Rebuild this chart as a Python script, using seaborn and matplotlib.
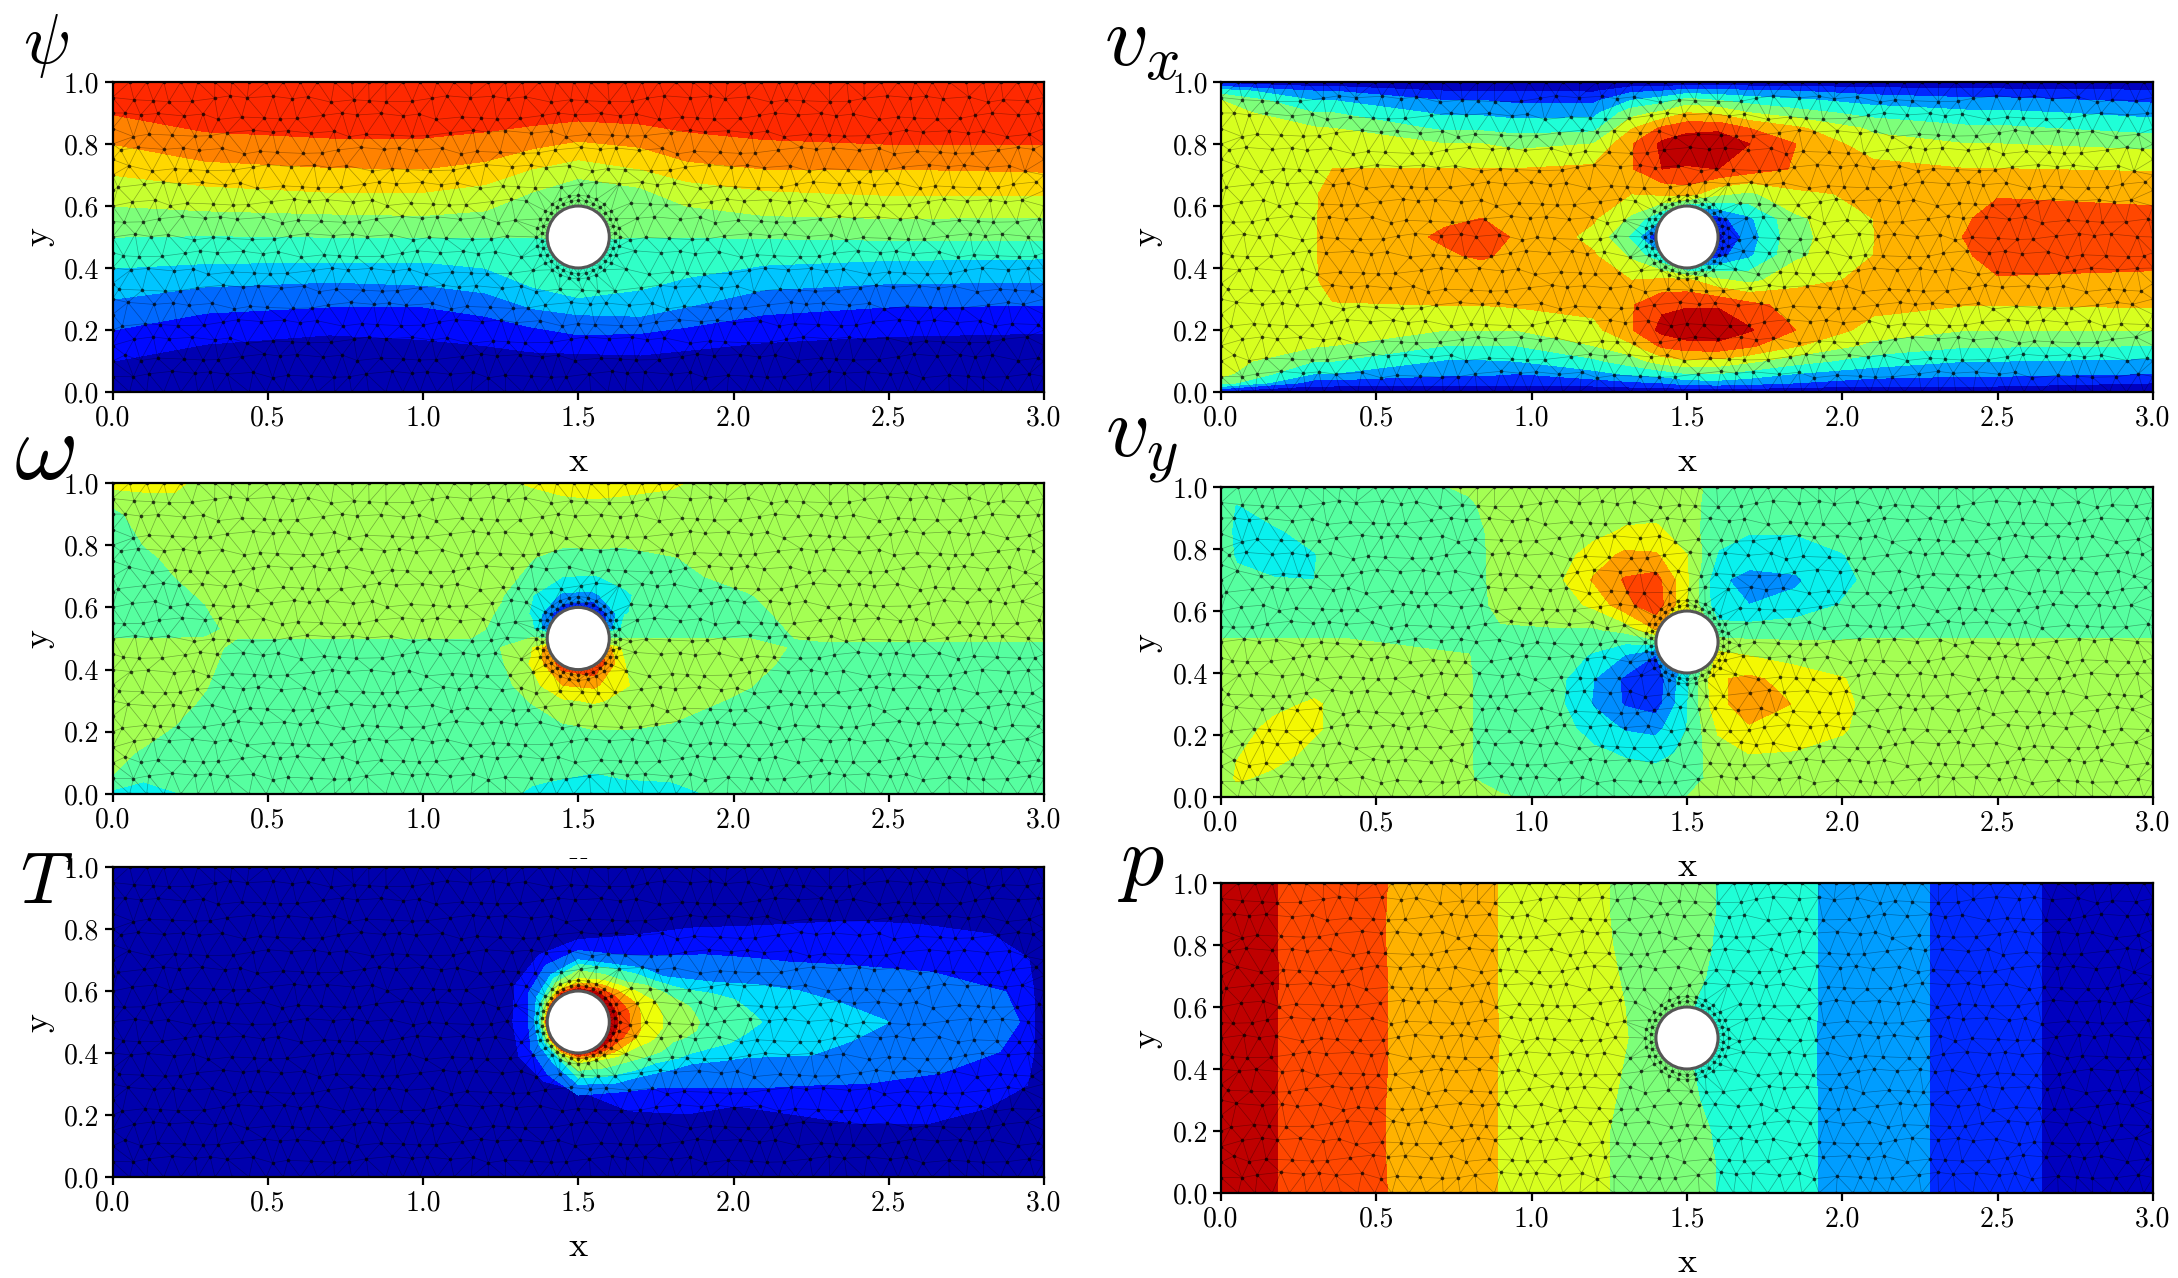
import numpy as np
import matplotlib
matplotlib.use("Agg")
import matplotlib.pyplot as plt
import matplotlib.tri as mtri
from matplotlib.patches import Circle, Rectangle
import seaborn as sns

W, H = 2178, 1278

tick_values_x = [0.0, 0.5, 1.0, 1.5, 2.0, 2.5, 3.0]
tick_values_y = [0.0, 0.2, 0.4, 0.6, 0.8, 1.0]

# ---- psi: height of each iso-line at x stations ----
psi_x = [0, .3, .7, 1, 1.2, 1.35, 1.5, 1.7, 1.85, 2.1, 2.5, 3]
psi_iso1 = [.10, .155, .185, .17, .15, .13, .125, .12, .135, .16, .18, .19]
psi_iso2 = [.20, .255, .275, .275, .245, .21, .185, .19, .21, .25, .275, .28]
psi_iso3 = [.30, .34, .355, .345, .32, .27, .25, .245, .275, .33, .35, .355]
psi_iso4 = [.40, .415, .42, .42, .40, .34, .305, .33, .37, .41, .425, .43]
psi_iso5 = [.50, .505, .50, .50, .50, .50, .49, .50, .50, .495, .49, .49]
psi_iso6 = [.60, .585, .575, .57, .585, .645, .69, .66, .60, .57, .56, .565]
psi_iso7 = [.70, .665, .645, .645, .67, .72, .75, .72, .68, .65, .635, .635]
psi_iso8 = [.80, .745, .725, .72, .745, .785, .81, .79, .745, .72, .72, .71]
psi_iso9 = [.895, .84, .82, .82, .84, .86, .875, .865, .84, .815, .80, .80]

# ---- p: x position of each iso-line at y stations ----
p_y = [0, .1, .2, .3, .4, .5, .6, .7, .8, .9, 1]
p_iso8 = [.18, .18, .18, .18, .18, .18, .18, .185, .18, .18, .18]
p_iso7 = [.535, .53, .53, .53, .535, .535, .535, .535, .53, .53, .535]
p_iso6 = [.89, .89, .89, .89, .89, .895, .89, .89, .89, .89, .89]
p_iso5 = [1.25, 1.25, 1.25, 1.27, 1.29, 1.31, 1.30, 1.28, 1.26, 1.25, 1.25]
p_iso4 = [1.59, 1.59, 1.575, 1.54, 1.52, 1.50, 1.52, 1.56, 1.58, 1.59, 1.59]
p_iso3 = [1.92, 1.92, 1.92, 1.92, 1.915, 1.915, 1.92, 1.92, 1.92, 1.92, 1.92]
p_iso2 = [2.28, 2.28, 2.28, 2.28, 2.28, 2.28, 2.28, 2.28, 2.28, 2.28, 2.28]
p_iso1 = [2.64, 2.64, 2.64, 2.64, 2.64, 2.64, 2.64, 2.64, 2.64, 2.64, 2.64]

# ---- T: radius of each isotherm around the cylinder at angle stations ----
T_angle = [0, 4, 8, 12, 16, 20, 28, 40, 60, 90, 120, 150, 180, 210, 240, 270, 300, 320, 332, 340, 344, 348, 352, 356, 360]
T_r1 = [1.47, 1.47, 1.465, 1.36, 1.14, .95, .66, .47, .32, .265, .25, .235, .21, .22, .22, .22, .33, .46, .575, .96, 1.18, 1.34, 1.46, 1.47, 1.47]
T_r2 = [1.42, 1.38, 1.15, .88, .7, .6, .46, .33, .25, .23, .21, .185, .16, .175, .195, .235, .26, .33, .447, .62, .74, .95, 1.18, 1.36, 1.42]
T_r3 = [1.0, .85, .717, .58, .46, .394, .31, .27, .215, .2, .175, .155, .14, .145, .155, .2, .228, .27, .33, .39, .46, .55, .76, .88, 1.0]
T_r4 = [.59, .55, .51, .44, .37, .33, .28, .24, .2, .185, .16, .135, .125, .125, .13, .18, .2, .24, .28, .34, .37, .42, .49, .54, .59]
T_r5 = [.39, .375, .36, .33, .305, .285, .25, .2, .175, .165, .145, .125, .117, .117, .125, .155, .17, .2, .24, .28, .295, .31, .35, .38, .39]
T_r6 = [.27, .27, .265, .26, .25, .234, .21, .18, .155, .14, .13, .115, .11, .11, .115, .13, .14, .17, .19, .215, .235, .25, .26, .27, .27]
T_r7 = [.2, .2, .2, .2, .195, .19, .175, .16, .14, .125, .12, .11, .107, .107, .11, .118, .128, .15, .165, .18, .19, .195, .2, .2, .2]
T_r8 = [.165, .165, .165, .165, .16, .155, .148, .14, .125, .115, .11, .105, .104, .104, .105, .11, .118, .13, .14, .15, .155, .16, .165, .165, .165]
T_r9 = [.125, .125, .125, .125, .124, .122, .12, .118, .112, .107, .104, .102, .102, .102, .102, .104, .108, .112, .117, .12, .122, .123, .125, .125, .125]

# ---- vx: band value at grid stations (one list per x station) ----
vx_x = [0, .3, .36, .72, .84, .95, 1.2, 1.32, 1.42, 1.5, 1.6, 1.7, 1.85, 2.1, 2.4, 2.5, 3]
vx_y = [0, .03, .06, .1, .15, .2, .28, .36, .44, .5, .56, .64, .72, .8, .85, .9, .94, .97, 1]
vx_columns = [
    [.5, 4.5, 5.3, 5.5, 5.5, 5.5, 5.5, 5.5, 5.5, 5.5, 5.5, 5.5, 5.5, 5.5, 5.5, 5.5, 5.0, 3.5, .5],
    [0, 1.5, 3, 4, 5.1, 5.4, 5.8, 5.9, 5.9, 5.9, 5.9, 5.9, 5.8, 5.4, 5.1, 4, 3, 2, 0],
    [0, 1.5, 3, 4, 5, 5.3, 5.95, 6.3, 6.4, 6.4, 6.4, 6.3, 6.0, 5.3, 5, 4, 3, 2, 0],
    [0, 1.4, 2.2, 2.9, 4, 5, 6, 6.5, 6.9, 7.1, 6.9, 6.5, 6, 5, 3.8, 2.8, 2, 1, 0],
    [0, 1.4, 2.2, 2.9, 4, 5, 6, 6.5, 7.1, 7.4, 7.0, 6.5, 6, 5, 3.8, 2.8, 2, 1, 0],
    [0, 1.3, 2, 3, 4, 5, 6.1, 6.5, 6.8, 6.9, 6.8, 6.5, 6, 4.7, 3.6, 2.6, 1.8, 1, 0],
    [0, 1.5, 2.7, 3.8, 5, 5.7, 6.3, 6.4, 6.1, 5.7, 6.1, 6.4, 6.2, 5, 3.7, 2.7, 1.8, .9, 0],
    [0, 1.8, 3.2, 4.5, 5.8, 6.9, 6.9, 6, 4.8, 3.8, 4.8, 6, 6.9, 6.9, 5.9, 4.6, 3, 1.8, 0],
    [0, 2, 3.5, 5.5, 7.2, 8.3, 7.8, 6.2, 3, .5, 3, 6.2, 8.0, 8.2, 7.2, 5.2, 3.6, 2, 0],
    [0, 2.5, 4, 5.8, 7.6, 8.7, 7.9, 6.2, .2, 0, .2, 6.5, 7.9, 8.6, 7.7, 6, 4.4, 2.5, 0],
    [0, 2.6, 4, 5.7, 7.7, 8.7, 7.9, 5.2, 1.6, .6, 1.6, 5.2, 8.0, 8.7, 7.8, 5.8, 4, 2.4, 0],
    [0, 2.4, 3.6, 5.2, 7.2, 8.1, 7.3, 4.7, 2.8, 2.5, 2.8, 4.8, 7.5, 8.0, 7.0, 5, 3.6, 2.2, 0],
    [0, 2, 3, 4.4, 6.1, 7.0, 6.6, 5.7, 4.8, 4.7, 4.8, 5.8, 6.9, 7.0, 6.2, 4.4, 3.2, 2, 0],
    [0, 1.5, 2.5, 3.5, 4.7, 5.6, 6.3, 6.2, 6, 5.98, 6, 6.2, 6.35, 5.4, 4.8, 3.6, 2.6, 1.6, 0],
    [0, 1.5, 2.2, 3, 4.1, 5, 6, 6.5, 6.9, 7.05, 6.9, 6.5, 6, 5, 4.2, 3.2, 2.3, 1.3, 0],
    [0, 1.5, 2.2, 3, 4.1, 5, 6, 6.9, 7.4, 7.6, 7.4, 6.9, 6, 5, 4.2, 3.2, 2.3, 1.3, 0],
    [0, 1, 2, 2.8, 4, 5, 6.1, 6.8, 7.3, 7.5, 7.3, 6.7, 5.9, 4.7, 3.6, 2.7, 1.8, 1.1, 0],
]

# ---- omega ----
om_x = [0, .1, .2, .3, .4, 1.15, 1.25, 1.35, 1.45, 1.55, 1.65, 1.8, 2.05, 2.2, 2.3, 3]
om_y = [0, .04, .08, .14, .22, .3, .35, .42, .47, .53, .58, .64, .7, .76, .8, .9, .96, 1]
om_columns = [
    [3.5, 4.9, 5.1, 5.2, 5.4, 5.5, 5.5, 5.5, 5.5, 4.5, 4.5, 4.5, 4.5, 4.5, 4.5, 4.7, 5.5, 6.5],
    [3.5, 4, 4.5, 4.95, 5.3, 5.5, 5.5, 5.5, 5.5, 4.5, 4.5, 4.5, 4.5, 4.7, 5, 5.5, 5.8, 6.5],
    [3.9, 4.4, 4.5, 4.5, 5, 5.3, 5.5, 5.5, 5.5, 4.5, 4.6, 4.8, 5, 5.3, 5.5, 5.5, 5.9, 6.3],
    [4.2, 4.5, 4.5, 4.5, 4.6, 4.9, 5.05, 5.3, 5.4, 4.7, 4.9, 5.1, 5.5, 5.5, 5.5, 5.5, 5.5, 5.5],
    [4.5, 4.5, 4.5, 4.5, 4.5, 4.5, 4.5, 4.5, 4.7, 5.3, 5.5, 5.5, 5.5, 5.5, 5.5, 5.5, 5.5, 5.5],
    [4.4, 4.5, 4.5, 4.5, 4.5, 4.5, 4.5, 4.5, 4.7, 5.3, 5.5, 5.5, 5.5, 5.5, 5.5, 5.5, 5.5, 5.5],
    [4.3, 4.5, 4.5, 4.5, 4.5, 4.5, 4.6, 4.85, 5.0, 4.7, 4.85, 5.1, 5.4, 5.5, 5.5, 5.5, 5.5, 5.6],
    [3.8, 4.1, 4.5, 4.5, 4.6, 5.05, 5.6, 6.1, 5.9, 4.2, 3.9, 4.05, 4.7, 5.05, 5.5, 5.5, 5.6, 6.2],
    [3.5, 3.9, 4.3, 4.5, 4.9, 5.85, 7.0, 8.5, 9, .5, 1, 2.8, 4.0, 4.5, 5.1, 5.5, 6, 6.5],
    [3.3, 3.5, 4.2, 4.5, 5.1, 6.1, 7.2, 9, 9, .5, .5, 2.8, 3.95, 4.7, 5.1, 5.5, 6.1, 6.5],
    [3.5, 3.9, 4.4, 4.5, 5.1, 5.8, 6.05, 6.0, 5.5, 4.5, 3.95, 3.9, 4.2, 4.75, 5.05, 5.5, 6, 6.2],
    [3.7, 4, 4.5, 4.5, 4.95, 5.4, 5.5, 5.5, 5.4, 4.6, 4.5, 4.5, 4.7, 4.95, 5.3, 5.5, 5.9, 6.1],
    [4.4, 4.5, 4.5, 4.5, 4.5, 4.8, 5.05, 5.4, 5.4, 4.6, 4.7, 4.95, 5.4, 5.5, 5.5, 5.5, 5.5, 5.5],
    [4.5, 4.5, 4.5, 4.5, 4.5, 4.5, 4.5, 4.7, 4.9, 5.1, 5.3, 5.5, 5.5, 5.5, 5.5, 5.5, 5.5, 5.5],
    [4.5, 4.5, 4.5, 4.5, 4.5, 4.5, 4.5, 4.5, 4.8, 5.4, 5.5, 5.5, 5.5, 5.5, 5.5, 5.5, 5.5, 5.5],
    [4.5, 4.5, 4.5, 4.5, 4.5, 4.5, 4.5, 4.5, 4.8, 5.4, 5.5, 5.5, 5.5, 5.5, 5.5, 5.5, 5.5, 5.5],
]

# ---- vy ----
vy_x = [0, .05, .17, .3, .4, .8, .9, 1.1, 1.2, 1.3, 1.4, 1.5, 1.6, 1.7, 1.85, 2.0, 2.1, 3]
vy_y = [0, .06, .14, .22, .3, .38, .46, .54, .62, .7, .78, .86, .94, 1]
vy_columns = [
    [5.5, 5.5, 5.5, 5.5, 5.5, 5.5, 5.35, 4.8, 4.5, 4.5, 4.4, 4.4, 4.4, 4.5],
    [5.5, 6.1, 5.95, 5.7, 5.5, 5.5, 5.35, 4.8, 4.5, 4.2, 3.9, 3.8, 3.95, 4.5],
    [5.5, 5.8, 6.3, 6.2, 5.8, 5.5, 5.35, 4.8, 4.4, 4.05, 3.6, 3.9, 4.4, 4.5],
    [5.5, 5.5, 5.8, 6.1, 6.1, 5.6, 5.35, 4.8, 4.3, 4.0, 3.95, 4.3, 4.5, 4.5],
    [5.5, 5.5, 5.5, 5.7, 5.7, 5.5, 5.35, 4.8, 4.5, 4.5, 4.5, 4.5, 4.5, 4.5],
    [5.05, 5.05, 5.05, 5.05, 5.05, 5.05, 5.0, 4.5, 4.5, 4.5, 4.5, 4.6, 4.9, 5.1],
    [5.1, 4.6, 4.5, 4.5, 4.5, 4.5, 4.5, 4.9, 5.3, 5.4, 5.4, 5.4, 5.3, 5.3],
    [4.6, 4.5, 4.5, 4.3, 4.05, 4.1, 4.4, 4.95, 5.6, 5.95, 5.6, 5.5, 5.5, 5.5],
    [4.5, 4.5, 4.2, 3.6, 2.9, 3.0, 3.9, 4.9, 6.2, 7.1, 6.5, 5.6, 5.5, 5.5],
    [4.5, 4.4, 3.9, 2.9, 1.9, 1.8, 3.0, 5.3, 7.7, 8.1, 7.2, 6.1, 5.5, 5.5],
    [4.5, 4.4, 3.7, 2.7, 1.5, 1.3, 2, 7, 8.6, 8.4, 7.1, 6.2, 5.5, 5.5],
    [5, 4.5, 4.2, 4.0, 3.9, 3.8, 3, 7, 6, 6.1, 6, 5.4, 5.3, 5.3],
    [5.3, 5.4, 5.7, 6.1, 6.8, 6.9, 6.2, 4.4, 3.3, 3.15, 3.9, 4.4, 4.6, 4.7],
    [5.4, 5.5, 6, 6.9, 7.4, 7.2, 5.9, 4.4, 3.0, 2.7, 3.4, 4.1, 4.5, 4.5],
    [5.4, 5.5, 5.9, 6.7, 6.95, 6.6, 5.5, 4.6, 3.3, 2.85, 3.5, 4.1, 4.5, 4.5],
    [5.4, 5.5, 5.7, 6.1, 6.2, 6.05, 5.4, 4.7, 4.05, 3.8, 3.95, 4.4, 4.5, 4.5],
    [5.5, 5.5, 5.5, 5.6, 5.7, 5.6, 5.35, 4.8, 4.5, 4.2, 4.4, 4.5, 4.5, 4.5],
    [5.3, 5.5, 5.5, 5.5, 5.5, 5.5, 5.35, 4.8, 4.5, 4.5, 4.5, 4.5, 4.6, 4.7],
]

# fixed small mesh offsets, cycled across the nodes
MESH_JITTER_X = [.3, -.5, .1, .6, -.2, -.7, .4]
MESH_JITTER_Y = [-.4, .5, .2, -.6, .7, -.1, .3, -.3, .6, -.5, .1]

sns.set_theme(style="ticks", rc={
    "axes.linewidth": 1.6, "axes.edgecolor": "black",
    "xtick.color": "black", "ytick.color": "black", "text.color": "black",
    "axes.labelcolor": "black",
    "xtick.major.size": 5.5, "ytick.major.size": 5.5,
    "xtick.major.width": 1.6, "ytick.major.width": 1.6,
    "xtick.major.pad": 4, "ytick.major.pad": 4,
})
plt.rcParams["font.family"] = ["cmr10"]
plt.rcParams["mathtext.fontset"] = "cm"
plt.rcParams["axes.formatter.use_mathtext"] = True
plt.rcParams["axes.unicode_minus"] = False

jet = plt.get_cmap("jet")


def build_mesh():
    pts = []
    rows = np.linspace(0, 1, 19)
    for j, yy in enumerate(rows[1:-1]):
        xs = np.arange(.03 if j % 2 else .062, 3, .064)
        for i, xx in enumerate(xs):
            dx = MESH_JITTER_X[(i + 3 * j) % len(MESH_JITTER_X)] * .018
            dy = MESH_JITTER_Y[(2 * i + j) % len(MESH_JITTER_Y)] * .016
            pts.append((xx + dx, yy + dy))
    pts = [p for p in pts if np.hypot(p[0] - 1.5, p[1] - .5) > .165 and 0.015 < p[0] < 2.985]
    for xx in np.arange(0, 3.001, .055):
        pts += [(xx, 0.0), (xx, 1.0)]
    for yy in np.arange(.05, 1, .05):
        pts += [(0.0, yy), (3.0, yy)]
    rings = []
    for r, n, off in ((.118, 30, .5), (.135, 28, 0)):
        a = (np.arange(n) + off) * 2 * np.pi / n
        rings += list(zip(1.5 + r * np.cos(a), .5 + r * np.sin(a)))
    a = np.arange(40) * 2 * np.pi / 40
    wall = list(zip(1.5 + .1 * np.cos(a), .5 + .1 * np.sin(a)))
    visible = np.array(pts + rings)
    every = np.array(pts + rings + wall)
    tri = mtri.Triangulation(every[:, 0], every[:, 1])
    cx = every[tri.triangles, 0].mean(axis=1)
    cy = every[tri.triangles, 1].mean(axis=1)
    tri.set_mask(np.hypot(cx - 1.5, cy - .5) < .1)
    return tri, visible


mesh, nodes = build_mesh()
fig = plt.figure(figsize=(W / 100, H / 100), dpi=100)
fig.patch.set_facecolor("white")


def make_axes(left, top, right, bottom, z):
    ax = fig.add_axes([left / W, 1 - bottom / H, (right - left) / W, (bottom - top) / H], zorder=z)
    ax.set_xlim(0, 3)
    ax.set_ylim(0, 1)
    ax.set_xticks(tick_values_x)
    ax.set_yticks(tick_values_y)
    ax.set_xticklabels([f"{v:.1f}" for v in tick_values_x], fontsize=20)
    ax.set_yticklabels([f"{v:.1f}" for v in tick_values_y], fontsize=20)
    ax.set_xlabel("x", fontsize=26, va="center")
    ax.set_ylabel("y", fontsize=26, va="center")
    ax.xaxis.set_label_coords(.5, -70 / (bottom - top))
    ax.yaxis.set_label_coords(-74 / (right - left), .5)
    return ax


def finish(ax, cs):
    cs.set_edgecolor("face")
    cs.set_linewidth(.3)
    ax.triplot(mesh, color="black", lw=.5, alpha=.33, zorder=3)
    ax.plot(nodes[:, 0], nodes[:, 1], ls="", marker="o", ms=2.6, color="black", alpha=.72, mew=0, zorder=4)
    ax.add_patch(Circle((1.5, .5), .1, fc="white", ec="#555555", lw=2.2, zorder=5))


# psi
ax = make_axes(112.5, 82, 1044, 392, 1)
iso = np.array([np.zeros(12), psi_iso1, psi_iso2, psi_iso3, psi_iso4, psi_iso5, psi_iso6, psi_iso7, psi_iso8, psi_iso9, np.ones(12)])
Zp = np.repeat(np.arange(11.0)[:, None], 12, axis=1)
finish(ax, ax.contourf(np.tile(psi_x, (11, 1)), iso, Zp, levels=np.arange(11), cmap=jet, vmin=0, vmax=11, zorder=1))

# vx
ax = make_axes(1221, 82, 2153, 392, 1)
finish(ax, ax.contourf(vx_x, vx_y, np.array(vx_columns).T, levels=np.arange(10), cmap=jet, vmin=0, vmax=9, zorder=1))

# omega
ax = make_axes(112.5, 483, 1044, 794, 1)
finish(ax, ax.contourf(om_x, om_y, np.array(om_columns).T, levels=np.arange(11), cmap=jet, vmin=-.28, vmax=10.22, zorder=1))

# vy
ax = make_axes(1221, 487, 2153, 797, 1)
finish(ax, ax.contourf(vy_x, vy_y, np.array(vy_columns).T, levels=np.arange(11), cmap=jet, vmin=-.28, vmax=10.22, zorder=1))

# cover for the omega x label, as in the reference where the lower panel sits over it
fig.add_artist(Rectangle((540 / W, 1 - 880 / H), 80 / W, 21 / H, transform=fig.transFigure, fc="white", ec="none", zorder=2))

# T
ax = make_axes(112.5, 867, 1044, 1177, 3)
theta = np.deg2rad(T_angle)
n_t = len(T_angle)
radii = np.array([np.full(n_t, 2.6), T_r1, T_r2, T_r3, T_r4, T_r5, T_r6, T_r7, T_r8, T_r9, np.full(n_t, .09)])
Zt = np.repeat(np.arange(11.0)[:, None], n_t, axis=1)
finish(ax, ax.contourf(1.5 + radii * np.cos(theta), .5 + radii * np.sin(theta), Zt, levels=np.arange(11), cmap=jet, vmin=.1, vmax=10.1, zorder=1))

# p
ax = make_axes(1221, 883, 2153, 1193, 3)
isox = np.array([np.zeros(11), p_iso8, p_iso7, p_iso6, p_iso5, p_iso4, p_iso3, p_iso2, p_iso1, np.full(11, 3.0)])
Zq = np.repeat(np.arange(9.0, -1, -1)[:, None], 11, axis=1)
finish(ax, ax.contourf(isox, np.tile(p_y, (10, 1)), Zq, levels=np.arange(10), cmap=jet, vmin=0, vmax=9, zorder=1))

panel_letters = [(r"$\psi$", 46, 46, 50), (r"$v_x$", 1142, 44, 62), (r"$\omega$", 44, 455, 70),
                 (r"$v_y$", 1142, 447, 62), (r"$T$", 46, 885, 52), (r"$p$", 1142, 865, 62)]
for s, px, py, fs in panel_letters:
    fig.text(px / W, 1 - py / H, s, fontsize=fs, ha="center", va="center", zorder=10)

fig.savefig("out.png", dpi=100)
